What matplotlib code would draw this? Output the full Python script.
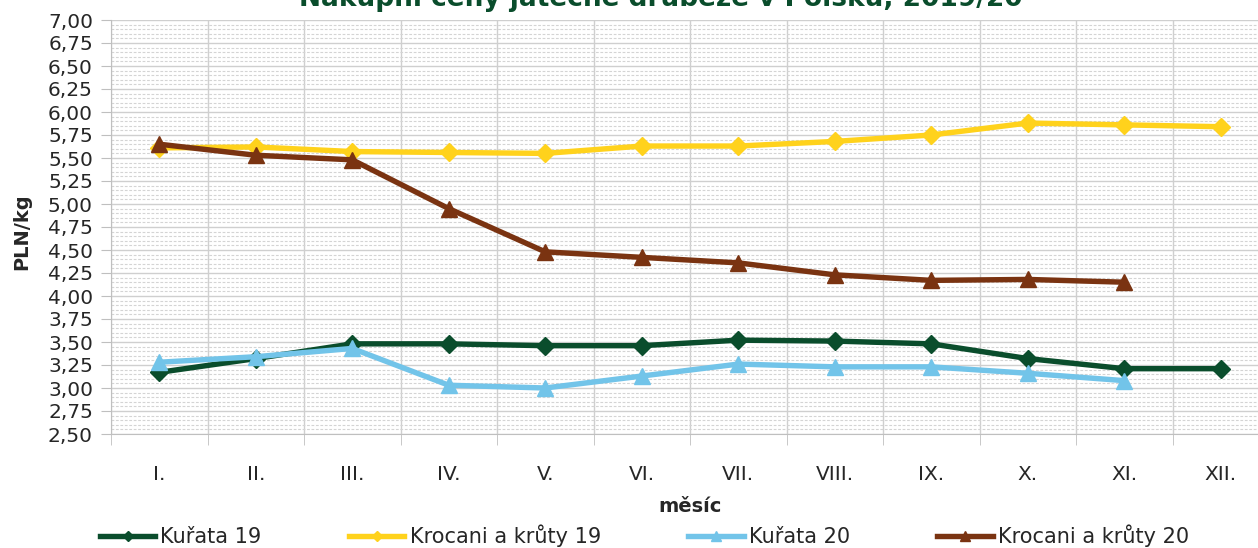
import matplotlib
matplotlib.use("Agg")
import matplotlib.pyplot as plt
from matplotlib.ticker import MultipleLocator, FuncFormatter

months = ["I.", "II.", "III.", "IV.", "V.", "VI.", "VII.", "VIII.", "IX.", "X.", "XI.", "XII."]

kurata_19 = [3.17, 3.32, 3.48, 3.48, 3.46, 3.46, 3.52, 3.51, 3.48, 3.32, 3.21, 3.21]
krocani_19 = [5.61, 5.62, 5.57, 5.56, 5.55, 5.63, 5.63, 5.68, 5.75, 5.88, 5.86, 5.84]
kurata_20 = [3.28, 3.34, 3.43, 3.03, 3.00, 3.13, 3.26, 3.23, 3.23, 3.16, 3.08]
krocani_20 = [5.65, 5.53, 5.48, 4.95, 4.48, 4.42, 4.36, 4.23, 4.17, 4.18, 4.15]

series = [
    ("Kuřata 19", kurata_19, "#0a4d2c", "D", 9),
    ("Krocani a krůty 19", krocani_19, "#ffd21c", "D", 9),
    ("Kuřata 20", kurata_20, "#72c4e9", "^", 11),
    ("Krocani a krůty 20", krocani_20, "#7a3311", "^", 11),
]

W, H = 1258, 548
fig = plt.figure(figsize=(W / 100, H / 100), dpi=100)
left, right, top, bottom = 111, 1269, 20, 434
ax = fig.add_axes([left / W, 1 - bottom / H, (right - left) / W, (bottom - top) / H])

handles = []
for name, vals, col, mk, ms in series:
    h, = ax.plot(range(len(vals)), vals, color=col, lw=3.9, marker=mk, ms=ms,
                 markeredgecolor=col, label=name, solid_joinstyle="round", zorder=3)
    handles.append(h)

ax.set_xlim(-0.5, 11.5)
ax.set_ylim(2.5, 7.0)
ax.yaxis.set_major_locator(MultipleLocator(0.25))
ax.yaxis.set_minor_locator(MultipleLocator(0.05))
ax.yaxis.set_major_formatter(FuncFormatter(lambda v, p: f"{v:.2f}".replace(".", ",")))
ax.set_xticks(range(12))
ax.set_xticklabels(months)
ax.set_xticks([i - 0.5 for i in range(13)], minor=True)

ax.grid(True, which="major", axis="y", color="#cfcfcf", lw=1.0)
ax.grid(True, which="minor", axis="y", color="#d4d4d4", lw=0.8, ls=(0, (2.5, 1.5)))
ax.grid(True, which="minor", axis="x", color="#cfcfcf", lw=1.0)
ax.set_axisbelow(True)

for s in ["top", "right"]:
    ax.spines[s].set_visible(False)
ax.spines["left"].set_color("#bfbfbf")
ax.spines["bottom"].set_color("#bfbfbf")

ax.tick_params(axis="y", which="major", length=7, color="#bfbfbf", labelsize=14.5, pad=6, labelcolor="#262626")
ax.tick_params(axis="y", which="minor", length=0)
ax.tick_params(axis="x", which="major", length=0, labelsize=14.5, pad=22, labelcolor="#262626")
ax.tick_params(axis="x", which="minor", length=8, color="#bfbfbf")

ax.set_xlabel("měsíc", fontsize=14, fontweight="bold", color="#262626", labelpad=10)
fig.text(22 / W, 1 - 232 / H, "PLN/kg", rotation=90, fontsize=14, fontweight="bold",
         color="#262626", ha="center", va="center")

fig.text(0.525, 1 - 6 / H, "Nákupní ceny jatečné drůbeže v Polsku, 2019/20", fontsize=19,
         fontweight="bold", color="#0a4d2c", ha="center", va="baseline")

fig.legend(handles=handles, loc="center left", bbox_to_anchor=(100 / W, 1 - 536 / H), ncol=4,
           frameon=False, fontsize=15, handlelength=2.65, handletextpad=0.25,
           columnspacing=4.2, markerscale=0.6, labelcolor="#262626",
           borderaxespad=0, borderpad=0)

fig.savefig("out.png", dpi=100)
